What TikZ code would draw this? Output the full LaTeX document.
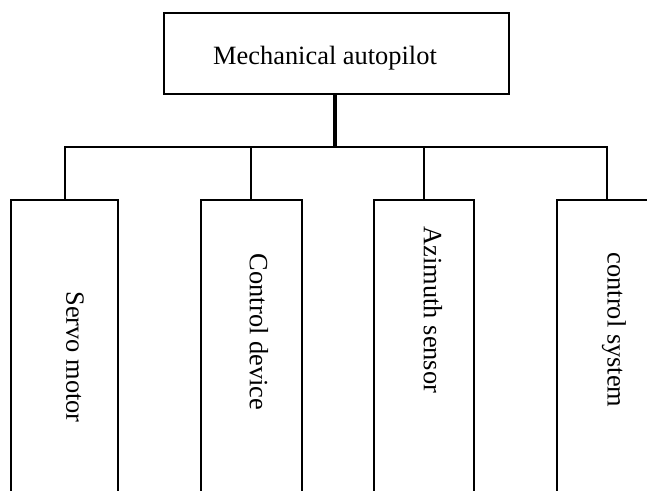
\documentclass[tikz,border=0pt]{standalone}
\usepackage{fontspec}
\setmainfont{Liberation Serif}
\begin{document}
\begin{tikzpicture}[x=1pt,y=-1pt,
  box/.style={draw, line width=2pt, inner sep=0pt},
  link/.style={line width=2pt},
  trunk/.style={line width=4pt},
  lbl/.style={font=\fontsize{26.4}{30}\selectfont, inner sep=0pt},
  vlbl/.style={lbl, rotate=-90}]
\useasboundingbox (0,0) rectangle (647,490);
\clip (0,0) rectangle (647,490);

% root box and its title
\node[box, minimum width=345pt, minimum height=81pt] (top) at (336.5,53.5) {};
\node[lbl, anchor=base] (toplbl) at (325,64) {Mechanical autopilot};

% child boxes (running past the lower edge)
\node[box, minimum width=107pt, minimum height=300pt] (b1) at (64.5,350) {};
\node[box, minimum width=101pt, minimum height=300pt] (b2) at (251,350) {};
\node[box, minimum width=100pt, minimum height=300pt] (b3) at (424,350) {};
\node[box, minimum width=100pt, minimum height=300pt] (b4) at (607,350) {};

% rotated labels
\node[vlbl] (l1) at (75,357) {Servo motor};
\node[vlbl] (l2) at (259,332) {Control device};
\node[vlbl] (l3) at (433,310) {Azimuth sensor};
\node[vlbl] (l4) at (614,330) {control system};

% tree connectors
\coordinate (bus) at (335,147);
\draw[trunk] (top.south -| bus) -- (bus);
\draw[link] (b1.north) -- (b1.north |- bus) -- (b4.north |- bus) -- (b4.north);
\draw[link] (b2.north) -- (b2.north |- bus);
\draw[link] (b3.north) -- (b3.north |- bus);
\end{tikzpicture}
\end{document}
